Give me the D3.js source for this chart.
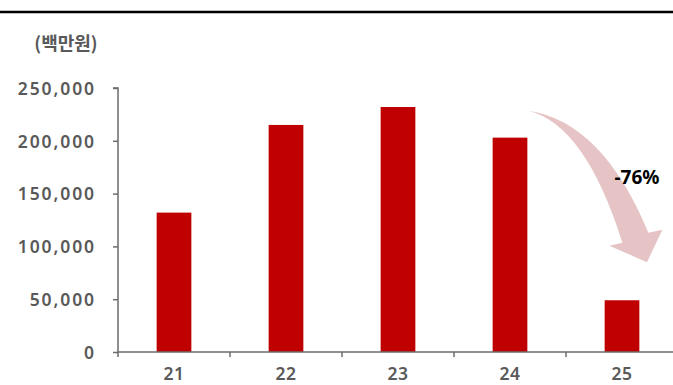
<!DOCTYPE html>
<html>
<head>
<meta charset="utf-8">
<script src="https://cdn.jsdelivr.net/npm/d3@7"></script>
<style>
  html, body { margin: 0; padding: 0; background: #fff; }
  svg { display: block; }
</style>
</head>
<body>
<svg id="chart" width="673" height="385"></svg>
<script>
// Annual figures, 백만원
const years = ["21", "22", "23", "24", "25"];
const values = [132000, 215000, 232000, 203000, 49000];
const yTicks = [0, 50000, 100000, 150000, 200000, 250000];
const unitLabel = "(백만원)";
const changeLabel = "-76%";

const W = 673, H = 385;
const margin = { left: 118, top: 88, bottom: 33 };
const plotBottom = H - margin.bottom; // 352
const axisColor = "#6b6b6b";
const textColor = "#595959";
const barColor = "#c00000";
const numFont = "'Noto Sans', sans-serif";

const svg = d3.select("#chart");

// top rule
svg.append("line")
  .attr("x1", 0).attr("x2", W)
  .attr("y1", 12).attr("y2", 12)
  .attr("stroke", "#000").attr("stroke-width", 2.5);

const x = d3.scaleBand()
  .domain(years)
  .range([margin.left, margin.left + 112 * years.length])
  .paddingInner(0.69)
  .paddingOuter(0.345);

const y = d3.scaleLinear()
  .domain([0, 250000])
  .range([plotBottom, margin.top]);

// bars
svg.append("g").selectAll("rect")
  .data(values)
  .join("rect")
  .attr("x", (d, i) => x(years[i]))
  .attr("width", x.bandwidth())
  .attr("y", d => y(d))
  .attr("height", d => y(0) - y(d))
  .attr("fill", barColor);

// y axis
const yAxis = svg.append("g")
  .attr("transform", `translate(${margin.left},0)`)
  .call(d3.axisLeft(y).tickValues(yTicks).tickSize(5).tickPadding(17)
    .tickFormat(d3.format(",")));
yAxis.select(".domain").attr("stroke", axisColor).attr("stroke-width", 1.5)
  .attr("d", `M-5,${y(250000)}H0V${plotBottom}`);
yAxis.selectAll(".tick line").attr("stroke", axisColor).attr("stroke-width", 1.5);
yAxis.selectAll(".tick text")
  .attr("fill", textColor)
  .attr("dy", "0.36em")
  .style("font-family", numFont)
  .style("font-size", "17.5px")
  .style("font-weight", "600")
  .style("letter-spacing", "1.9px");

// x axis: line runs to the right edge, ticks sit on band boundaries
const xg = svg.append("g");
xg.append("line")
  .attr("x1", margin.left).attr("x2", W)
  .attr("y1", plotBottom).attr("y2", plotBottom)
  .attr("stroke", axisColor).attr("stroke-width", 1.5);
const step = x.step();
xg.selectAll("line.tk")
  .data(years)
  .join("line")
  .attr("class", "tk")
  .attr("x1", d => x(d) + x.bandwidth() / 2 - step / 2)
  .attr("x2", d => x(d) + x.bandwidth() / 2 - step / 2)
  .attr("y1", plotBottom).attr("y2", plotBottom + 5)
  .attr("stroke", axisColor).attr("stroke-width", 1.5);
xg.selectAll("text")
  .data(years)
  .join("text")
  .attr("x", d => x(d) + x.bandwidth() / 2)
  .attr("y", plotBottom + 27.5)
  .attr("text-anchor", "middle")
  .attr("fill", textColor)
  .style("font-family", numFont)
  .style("font-size", "17.5px")
  .style("font-weight", "600")
  .style("letter-spacing", "0.5px")
  .text(d => d);

// unit label
svg.append("text")
  .attr("x", 66).attr("y", 50)
  .attr("text-anchor", "middle")
  .attr("fill", textColor)
  .style("font-family", "'Noto Sans CJK KR', sans-serif")
  .style("font-size", "18px")
  .style("font-weight", "700")
  .text(unitLabel);

// curved decline arrow from above the 24 bar down toward the 25 bar
const x24 = x("24") + x.bandwidth();
const x25 = x("25") + x.bandwidth() / 2;
const topY = y(values[3]) - 27;
const tipY = y(values[4]) - 38;
const p = (dx, dy) => [x24 + dx, topY + dy];
const s = ([a, b]) => `${a},${b}`;
const start = p(1, 0);
const arrow = [
  `M${s(start)}`,
  `Q${s(p(75, 11))} ${s(p(121, 122))}`,
  `L${s(p(135, 119))}`,
  `L${s([x25 + 25, tipY])}`,
  `L${s(p(82, 135))}`,
  `L${s(p(95, 132))}`,
  `Q${s(p(58, 14))} ${s(start)}`,
  "Z"
].join(" ");
svg.append("path")
  .attr("d", arrow)
  .attr("fill", "#e6c4c6");

svg.append("text")
  .attr("x", 637).attr("y", 184)
  .attr("text-anchor", "middle")
  .attr("fill", "#000")
  .style("font-family", "'Noto Sans', sans-serif")
  .style("font-size", "19px")
  .style("font-weight", "700")
  .text(changeLabel);
</script>
</body>
</html>
